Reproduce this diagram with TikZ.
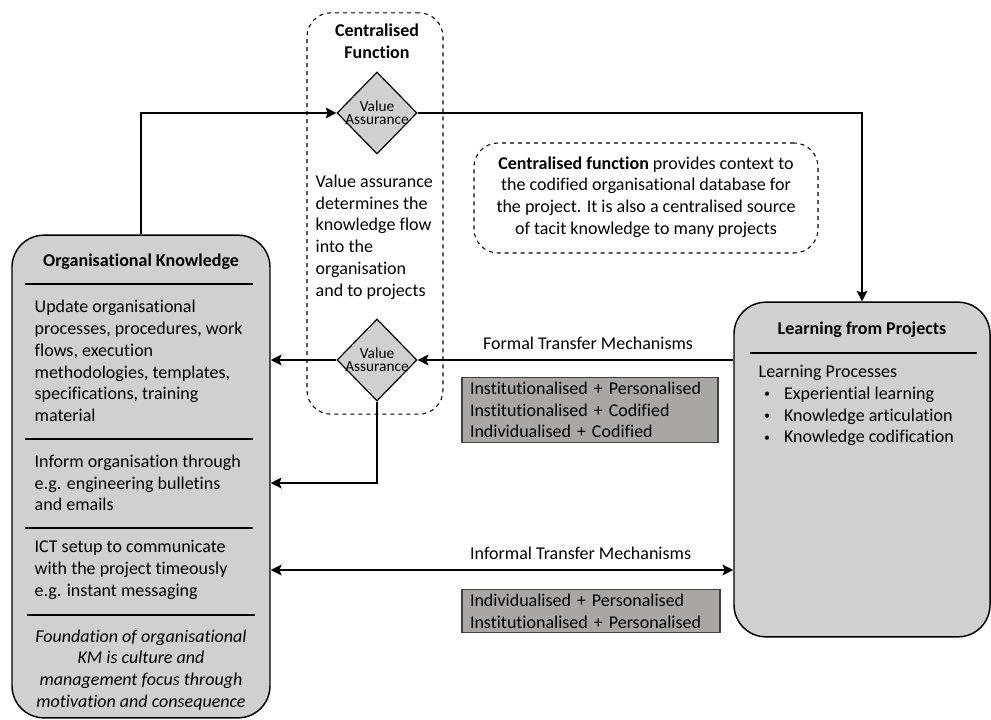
\documentclass[tikz,border=0pt]{standalone}
\usepackage{fontspec}
\setmainfont[Ligatures=NoCommon]{Carlito}
\usetikzlibrary{shapes.geometric,positioning,arrows.meta}

\definecolor{boxgrey}{RGB}{208,208,208}
\definecolor{mechgrey}{RGB}{170,166,164}

\newcommand{\bulletitem}{\hspace*{4pt}\makebox[15pt][l]{\raisebox{1pt}{\fontsize{9}{9}\selectfont\textbullet}}}

\begin{document}
\begin{tikzpicture}[
    x=0.75pt, y=-0.75pt,
    box/.style={draw, rounded corners=24pt, fill=boxgrey, line width=1.1pt},
    dashbox/.style={draw, dashed, rounded corners=18pt, line width=0.8pt},
    vadiamond/.style={draw, diamond, aspect=1, fill=boxgrey, line width=0.9pt, minimum width=60pt, minimum height=61.5pt, inner sep=0pt,
        label={[align=center, font=\fontsize{11.5}{10}\selectfont]center:Value\\Assurance}},
    mech/.style={draw=black!75, fill=mechgrey, line width=0.8pt, inner xsep=6pt, align=left},
    sep/.style={line width=0.9pt},
    arrow/.style={->, line width=2.2pt, >={Stealth[length=8pt, width=8pt, inset=1.5pt]}},
    every node/.style={font=\fontsize{13.5}{16.3}\selectfont}
]
\useasboundingbox (0,0) rectangle (991,720);

% Centralised function (dashed)
\node[dashbox, minimum width=102pt, minimum height=301pt] (cfun) at (375, 213.5) {};
\node[font=\fontsize{13.5}{16.3}\selectfont\bfseries, align=center] (cfuntitle) at (377, 41) {Centralised\\Function};
\node[align=left, anchor=west] (vadesc) at (311, 237) {Value assurance\\determines the\\knowledge flow\\into the\\organisation\\and to projects};

% Value assurance gates
\node[vadiamond] (va1) at (377, 113) {};
\node[vadiamond] (va2) at (377, 360) {};

% Note on the centralised function
\node[dashbox, minimum width=258pt, minimum height=82.5pt] (note) at (646, 198) {};
\node[align=center] (notetext) at (646, 197) {\textbf{Centralised function} provides context to\\the codified organisational database for\\the project. It is also a centralised source\\of tacit knowledge to many projects};

% Organisational knowledge
\node[box, minimum width=193.5pt, minimum height=362pt] (orgk) at (141, 476.5) {};
\node[font=\fontsize{13.5}{16.3}\selectfont\bfseries] (orgktitle) at (141, 262) {Organisational Knowledge};
\draw[sep] (25, 284) -- (253, 284);
\node[align=left, anchor=west] (upd) at (30, 361) {Update organisational\\processes, procedures, work\\flows, execution\\methodologies, templates,\\specifications, training\\material};
\draw[sep] (25, 439) -- (253, 439);
\node[align=left, anchor=west] (inf) at (30, 483) {Inform organisation through\\e.g. engineering bulletins\\and emails};
\draw[sep] (25, 528) -- (253, 528);
\node[align=left, anchor=west] (ict) at (30, 570) {ICT setup to communicate\\with the project timeously\\e.g. instant messaging};
\draw[sep, line width=1.3pt] (27, 615) -- (255, 615);
\node[align=center, font=\fontsize{13.5}{16.3}\selectfont\itshape] (found) at (141, 670) {Foundation of organisational\\KM is culture and\\management focus through\\motivation and consequence};

% Learning from projects
\node[box, minimum width=192pt, minimum height=251pt] (lfp) at (862, 469.5) {};
\node[font=\fontsize{13.5}{16.3}\selectfont\bfseries] (lfptitle) at (862, 330) {Learning from Projects};
\draw[sep] (750, 353) -- (977, 353);
\node[align=left, anchor=west] (lproc) at (754, 405.5) {Learning Processes\\
    \bulletitem Experiential learning\\
    \bulletitem Knowledge articulation\\
    \bulletitem Knowledge codification};

% Transfer mechanisms
\node[mech, text width=180pt] (formal) at (590, 410) {Institutionalised + Personalised\\Institutionalised + Codified\\Individualised + Codified};
\node[mech, text width=181.5pt] (informal) at (591, 611) {Individualised + Personalised\\Institutionalised + Personalised};

% Arrows
\draw[arrow] (orgk.north) |- (va1.west);
\draw[arrow] (va1.east) -| (lfp.north);
\draw[arrow] (va2.east -| lfp.west) -- (va2.east) node[pos=0.46, above=3pt] {Formal Transfer Mechanisms};
\draw[arrow] (va2.west) -- (va2.west -| orgk.east);
\draw[arrow] (va2.south) |- (inf.center -| orgk.east);
\draw[arrow, <->] (ict.center -| orgk.east) -- (ict.center -| lfp.west) node[pos=0.67, above=3pt] {Informal Transfer Mechanisms};

\end{tikzpicture}
\end{document}
